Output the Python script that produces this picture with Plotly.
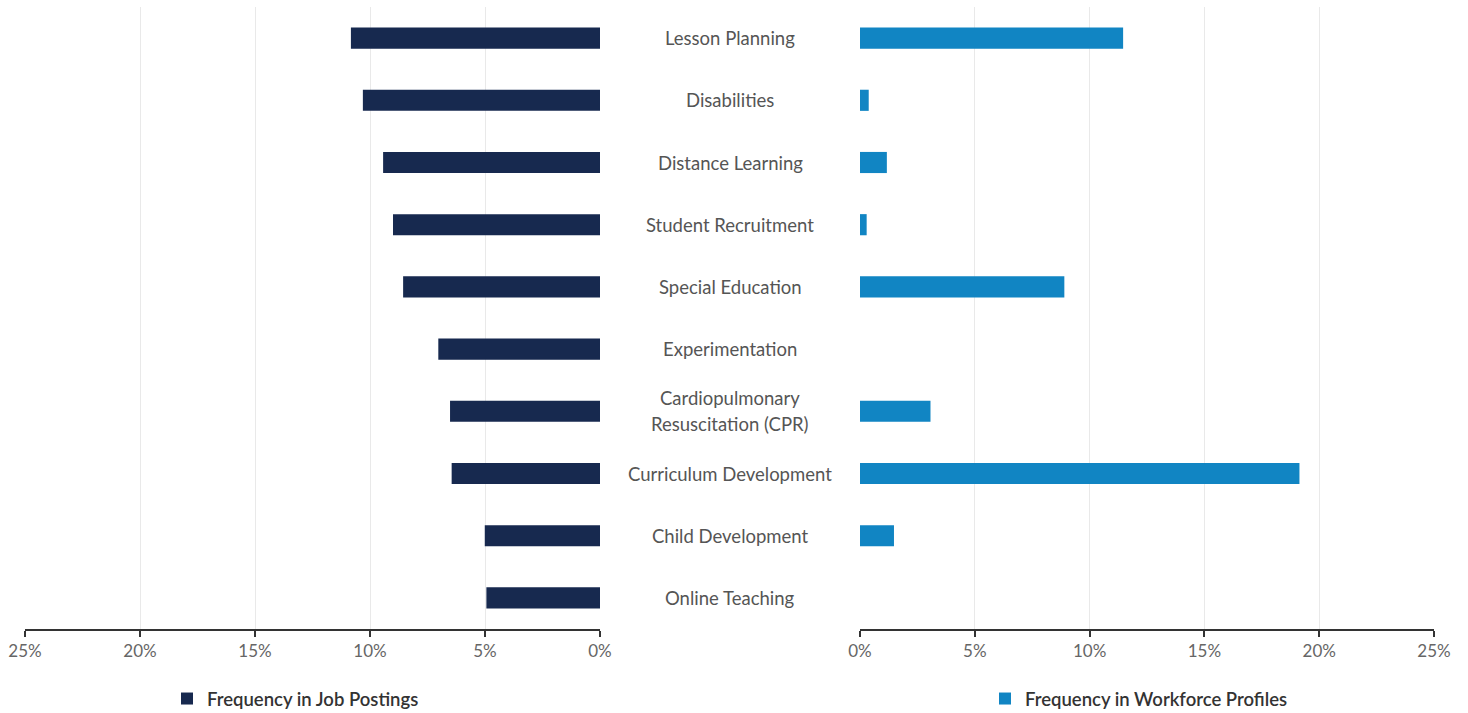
import plotly.graph_objects as go

categories = [
    "Lesson Planning", "Disabilities", "Distance Learning", "Student Recruitment",
    "Special Education", "Experimentation", "Cardiopulmonary<br>Resuscitation (CPR)",
    "Curriculum Development", "Child Development", "Online Teaching",
]
job_postings = [10.83, 10.31, 9.43, 9.0, 8.56, 7.03, 6.52, 6.45, 5.01, 4.94]
workforce_profiles = [11.46, 0.38, 1.17, 0.29, 8.90, 0, 3.07, 19.14, 1.48, 0]
tick_vals = [0, 5, 10, 15, 20, 25]
tick_text = ["0%", "5%", "10%", "15%", "20%", "25%"]

W, H = 1468, 713
NAVY = "#17294f"
BLUE = "#1185c3"
FONT = "Lato"

ML, MR = 25, W - 1434
PW = W - ML - MR

fig = go.Figure()
fig.add_trace(go.Bar(
    y=categories, x=job_postings, orientation="h", xaxis="x", yaxis="y",
    marker=dict(color=NAVY, line=dict(width=0)), width=0.34,
    name="Frequency in Job Postings", legend="legend", showlegend=True,
    hoverinfo="x+y",
))
fig.add_trace(go.Bar(
    y=categories, x=workforce_profiles, orientation="h", xaxis="x2", yaxis="y2",
    marker=dict(color=BLUE, line=dict(width=0)), width=0.34,
    name="Frequency in Workforce Profiles", legend="legend2", showlegend=True,
    hoverinfo="x+y",
))

axis_common = dict(
    tickvals=tick_vals, ticktext=tick_text,
    showgrid=True, gridcolor="#e9e9e9", gridwidth=1,
    showline=True, linecolor="#333333", linewidth=1.5,
    ticks="outside", ticklen=6, tickcolor="#333333", tickwidth=1.5,
    tickfont=dict(family=FONT, size=17, color="#666666"),
    zeroline=False, fixedrange=True, automargin=False,
)
legend_common = dict(
    xref="container", yref="container", xanchor="left", yanchor="middle",
    y=1 - 699 / H, orientation="h", bgcolor="rgba(0,0,0,0)",
    font=dict(family=FONT, size=18.5, color="#333333", weight=600),
)
fig.update_layout(
    width=W, height=H,
    margin=dict(l=ML, r=MR, t=7, b=84),
    paper_bgcolor="white", plot_bgcolor="white",
    font=dict(family=FONT),
    showlegend=True,
    xaxis=dict(domain=[0, 575 / PW], range=[25, 0], anchor="y", **axis_common),
    xaxis2=dict(domain=[835 / PW, 1], range=[0, 25], anchor="y2", **axis_common),
    yaxis=dict(domain=[0, 1], autorange="reversed", showticklabels=False,
               showgrid=False, zeroline=False, anchor="x", fixedrange=True,
               automargin=False),
    yaxis2=dict(domain=[0, 1], autorange="reversed", showticklabels=False,
                showgrid=False, zeroline=False, anchor="x2", fixedrange=True,
                automargin=False),
    legend=dict(x=167 / W, **legend_common),
    legend2=dict(x=985 / W, **legend_common),
)

LINE_H = 26
for cat in categories:
    lines = cat.split("<br>")
    n = len(lines)
    for i, line in enumerate(lines):
        fig.add_annotation(
            x=(730 - ML) / PW, xref="paper", y=cat, yref="y", text=line,
            showarrow=False, xanchor="center", yanchor="middle", align="center",
            yshift=((n - 1) / 2 - i) * LINE_H,
            font=dict(family=FONT, size=18.5, color="#555555"),
        )

fig.write_html("out.html")
